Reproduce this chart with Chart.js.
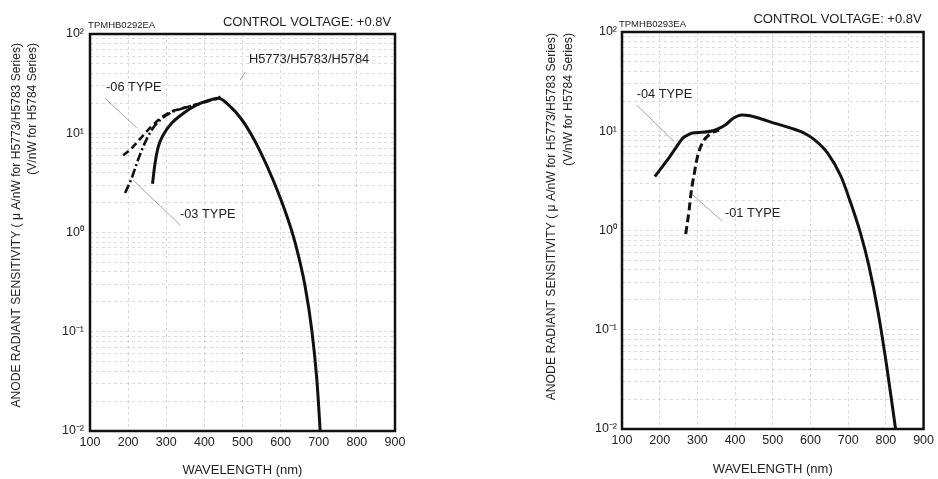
<!DOCTYPE html>
<html><head><meta charset="utf-8">
<script src="https://cdn.jsdelivr.net/npm/chart.js@4.4.1/dist/chart.umd.min.js"></script>
<style>
html,body{margin:0;padding:0;background:#fff;}
#wrap{position:relative;width:938px;height:479px;overflow:hidden;background:#fff;}
.box{position:absolute;top:0;height:479px;}
canvas{display:block;}
</style></head><body>
<div id="wrap">
<div class="box" style="left:0;width:470px"><canvas id="c1" width="470" height="479"></canvas></div>
<div class="box" style="left:470px;width:468px"><canvas id="c2" width="468" height="479"></canvas></div>
</div>
<script>
// ---- axis ticks ----
const xTickValues = [100, 200, 300, 400, 500, 600, 700, 800, 900];
const yDecades = [0.01, 0.1, 1, 10, 100];
const yTickLabels = ['10\u207B\u00B2', '10\u207B\u00B9', '10\u2070', '10\u00B9', '10\u00B2'];
const yMinorFactors = [2, 3, 4, 5, 6, 7, 8, 9];

// ---- left chart (H5773/H5783/H5784, -06, -03) ----
const leftMainWl  = [264, 270, 279, 292, 314, 345, 380, 415, 437, 470, 494, 520, 546, 580, 617, 638, 664, 682, 695, 704];
const leftMainVal = [3.1, 4.8, 7.3, 9.6, 12.6, 15.9, 19.3, 21.6, 22.5, 18.2, 14.4, 10.2, 6.6, 3.4, 1.44, 0.79, 0.29, 0.102, 0.033, 0.0098];
const left06Wl  = [187, 205, 222, 240, 260, 285, 310, 335, 360, 385, 420, 437, 447];
const left06Val = [6.0, 6.8, 8.0, 9.6, 11.6, 14.2, 16.3, 17.5, 18.6, 19.7, 21.6, 22.6, 24.5];
const left03Wl  = [192, 209, 226, 244, 262, 284, 310, 335, 360, 385];
const left03Val = [2.5, 3.5, 5.4, 8.0, 10.8, 13.6, 16.0, 17.4, 18.6, 19.7];

// ---- right chart (-04 main, -01) ----
const rightMainWl  = [187, 205, 226, 245, 261, 275, 287, 313, 348, 375, 395, 418, 440, 470, 506, 550, 585, 611, 646, 681, 707, 733, 755, 780, 803, 826];
const rightMainVal = [3.5, 4.3, 5.5, 7.0, 8.5, 9.2, 9.6, 9.75, 10.3, 11.6, 13.5, 14.6, 14.3, 13.3, 12.0, 10.7, 9.5, 8.2, 6.0, 3.5, 1.88, 0.93, 0.44, 0.146, 0.041, 0.0098];
const right01Wl  = [269, 278, 283, 292, 300, 313, 331, 357];
const right01Val = [0.92, 1.6, 2.37, 3.8, 5.5, 7.6, 9.2, 10.3];

// ---- texts ----
const yTitleLines = ['ANODE RADIANT SENSITIVITY ( \u03BC A/nW for H5773/H5783 Series)', '(V/nW for H5784 Series)'];
const xTitleText = 'WAVELENGTH (nm)';
const controlText = 'CONTROL VOLTAGE: +0.8V';

const FAMILY = "'Liberation Sans', Arial, Helvetica, sans-serif";
const TEXT = '#222';
const GRID = 'rgba(0,0,0,0.18)';

function pts(w, v) { return w.map((x, i) => ({x: x, y: v[i]})); }

const notesPlugin = {
  id: 'notes',
  afterDatasetsDraw(chart, args, opts) {
    const {ctx, chartArea: a, scales: {x, y}} = chart;
    ctx.save();
    ctx.strokeStyle = 'rgba(0,0,0,0.45)';
    ctx.lineWidth = 0.8;
    (opts.leaders || []).forEach(l => {
      ctx.beginPath();
      ctx.moveTo(x.getPixelForValue(l[0]), y.getPixelForValue(l[1]));
      ctx.lineTo(x.getPixelForValue(l[2]), y.getPixelForValue(l[3]));
      ctx.stroke();
    });
    ctx.strokeStyle = '#111';
    ctx.lineWidth = 2.5;
    ctx.strokeRect(a.left, a.top, a.right - a.left, a.bottom - a.top);
    ctx.fillStyle = TEXT;
    ctx.textBaseline = 'middle';
    (opts.labels || []).forEach(t => {
      ctx.font = t.size + 'px ' + FAMILY;
      ctx.textAlign = t.align || 'left';
      ctx.fillText(t.text, x.getPixelForValue(t.x), y.getPixelForValue(t.y));
    });
    const yt = opts.yTitle;
    ctx.save();
    ctx.translate(yt.x, yt.top);
    ctx.rotate(-Math.PI / 2);
    ctx.textAlign = 'right';
    ctx.textBaseline = 'middle';
    ctx.font = yt.size + 'px ' + FAMILY;
    yTitleLines.forEach((s, i) => ctx.fillText(s, 0, i * yt.gap));
    ctx.restore();
    ctx.restore();
  }
};

function makeChart(id, cfg, datasets) {
  return new Chart(document.getElementById(id), {
    type: 'line',
    data: {datasets: datasets},
    plugins: [notesPlugin],
    options: {
      responsive: false, animation: false, devicePixelRatio: 1,
      layout: {padding: {top: cfg.padTop, right: cfg.padRight, left: 0, bottom: 0}},
      plugins: {
        legend: {display: false}, tooltip: {enabled: false},
        notes: {labels: cfg.labels, leaders: cfg.leaders, yTitle: cfg.yTitle}
      },
      elements: {point: {radius: 0}, line: {cubicInterpolationMode: 'monotone', fill: false, borderCapStyle: 'butt', borderJoinStyle: 'round'}},
      scales: {
        x: {
          type: 'linear', min: 100, max: 900,
          afterBuildTicks: s => { s.ticks = xTickValues.map(v => ({value: v})); },
          afterFit: s => { s.height = cfg.xHeight; },
          grid: {color: GRID, lineWidth: 0.8, drawTicks: false},
          border: {display: false, dash: [3, 3]},
          ticks: {padding: cfg.xPad, color: TEXT, font: {family: FAMILY, size: 12.5}, autoSkip: false, maxRotation: 0, callback: v => String(v)},
          title: {display: true, text: xTitleText, color: TEXT, font: {family: FAMILY, size: 13}, padding: {top: 0, bottom: cfg.xTitlePad}}
        },
        y: {
          type: 'logarithmic', min: 0.01, max: 100,
          afterBuildTicks: s => {
            const t = [];
            yDecades.forEach(d => { t.push({value: d}); if (d < 100) yMinorFactors.forEach(f => t.push({value: d * f})); });
            s.ticks = t;
          },
          afterFit: s => { s.width = cfg.yWidth; },
          grid: {color: GRID, lineWidth: 0.8, drawTicks: false},
          border: {display: false, dash: [3, 3]},
          ticks: {padding: cfg.yPad, color: TEXT, font: {family: FAMILY, size: 12.5}, autoSkip: false,
            callback: v => { const i = yDecades.indexOf(v); return i >= 0 ? yTickLabels[i] : ''; }}
        }
      }
    }
  });
}

makeChart('c1', {
  padTop: 34, padRight: 75, yWidth: 90, xHeight: 48, xPad: 4, yPad: 6, xTitlePad: 1,
  yTitle: {x: 17, top: 43, gap: 16, size: 12.1},
  labels: [
    {text: 'TPMHB0292EA', x: 95, y: 123, size: 9.5},
    {text: controlText, x: 890, y: 132, size: 13, align: 'right'},
    {text: 'H5773/H5783/H5784', x: 517, y: 56, size: 12.8},
    {text: '-06 TYPE', x: 142, y: 28.6, size: 12.8},
    {text: '-03 TYPE', x: 336, y: 1.53, size: 12.8}
  ],
  leaders: [[139, 22.6, 223, 11.3], [213, 3.38, 336, 1.19], [507, 41.4, 494, 34.4]]
}, [
  {data: pts(leftMainWl, leftMainVal), borderColor: '#111', borderWidth: 3},
  {data: pts(left06Wl, left06Val), borderColor: '#111', borderWidth: 2.6, borderDash: [7, 4]},
  {data: pts(left03Wl, left03Val), borderColor: '#111', borderWidth: 2.6, borderDash: [9, 3, 2, 3]}
]);

makeChart('c2', {
  padTop: 32, padRight: 11, yWidth: 152, xHeight: 50, xPad: 4, yPad: 5, xTitlePad: 2,
  yTitle: {x: 82, top: 33, gap: 17, size: 12.2},
  labels: [
    {text: 'TPMHB0293EA', x: 92, y: 120, size: 9.5},
    {text: controlText, x: 895, y: 135, size: 13, align: 'right'},
    {text: '-04 TYPE', x: 139, y: 23.2, size: 12.8},
    {text: '-01 TYPE', x: 373, y: 1.5, size: 12.8}
  ],
  leaders: [[138.6, 18.4, 238, 7.9], [287, 2.3, 365, 1.25]]
}, [
  {data: pts(rightMainWl, rightMainVal), borderColor: '#111', borderWidth: 3},
  {data: pts(right01Wl, right01Val), borderColor: '#111', borderWidth: 3, borderDash: [8, 4]}
]);
</script>
</body></html>
